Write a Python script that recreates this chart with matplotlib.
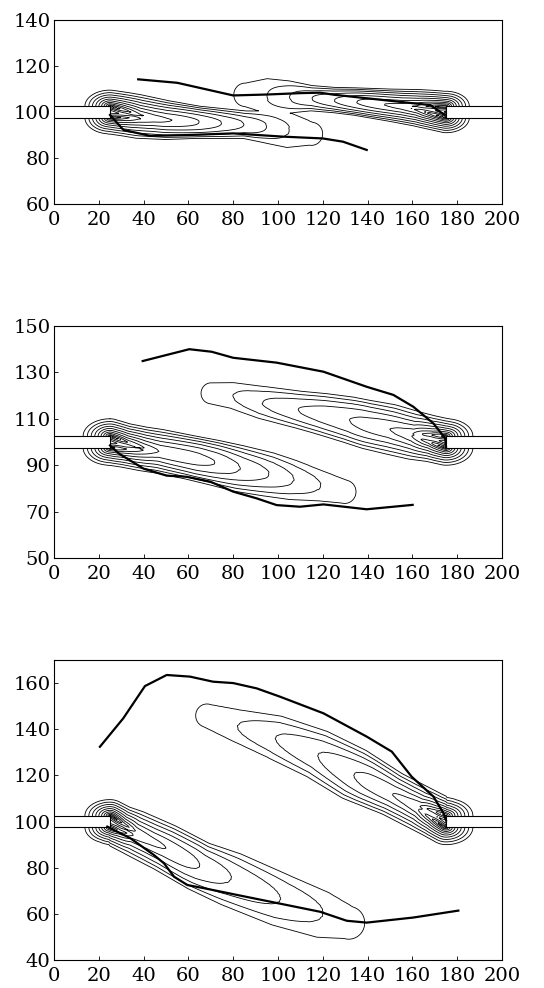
import numpy as np
import matplotlib.pyplot as plt
from matplotlib.patches import Rectangle

plt.rcParams['font.family'] = 'DejaVu Serif'
plt.rcParams['font.size'] = 14

# contour levels shared by every panel
levels = [0.05, 0.067, 0.089, 0.119, 0.159, 0.212, 0.283, 0.378, 0.505, 0.674, 0.9]

# jet axes: points along the axis, level on the axis (a) and outer half-width (h)
# ---- panel 1 (head-on jets) ----
p1_left_x = [25, 32, 38, 50, 65, 75, 85, 95, 105, 115]
p1_left_y = [100, 99, 98, 96.5, 95.5, 95, 94.5, 93.5, 92, 90.5]
p1_left_a = [1.0, 0.6, 0.4, 0.3, 0.212, 0.159, 0.119, 0.089, 0.067, 0.058]
p1_left_h = [9.5, 9.5, 9.5, 8.5, 7, 6.5, 6, 7, 7.5, 5]
p1_right_x = [175, 168, 162, 150, 135, 125, 115, 105, 95, 85]
p1_right_y = [100, 101, 101.8, 103, 104.5, 105.2, 106, 106.5, 107, 107.5]
p1_right_a = [1.0, 0.6, 0.4, 0.3, 0.212, 0.159, 0.119, 0.089, 0.067, 0.058]
p1_right_h = [9, 8.5, 8, 7, 6, 5.5, 5.5, 7, 7.5, 5]
p1_upper_x = [37.6, 55, 80, 95, 110, 118.8, 125, 147, 168, 174.5]
p1_upper_y = [114.2, 112.7, 107.2, 107.6, 108.2, 108.4, 107.5, 105.2, 103, 98.7]
p1_lower_x = [25, 31, 43, 60, 80, 102, 120, 129, 139.6]
p1_lower_y = [98.7, 92.2, 89.6, 90, 90.7, 89.3, 88.5, 87.1, 83.5]

# ---- panel 2 ----
p2_left_x = [25, 32, 40, 47, 60, 72, 83, 96, 107, 119, 130]
p2_left_y = [100, 98.5, 97, 96, 93.5, 91, 88.5, 86, 83.5, 81, 78.5]
p2_left_a = [1.0, 0.55, 0.38, 0.283, 0.25, 0.212, 0.159, 0.119, 0.089, 0.067, 0.058]
p2_left_h = [10, 9.5, 9.5, 9.5, 9.5, 9.8, 10, 9.5, 8.5, 6.5, 5]
p2_right_x = [175, 168, 160, 150, 140, 132, 120, 109, 93, 80, 70]
p2_right_y = [100, 101.5, 103, 105.5, 107.5, 109.5, 112, 114, 117, 120, 121]
p2_right_a = [1.0, 0.5, 0.283, 0.212, 0.18, 0.159, 0.14, 0.119, 0.089, 0.067, 0.058]
p2_right_h = [10, 10, 10.5, 10.8, 10.5, 10, 9, 8, 7, 5.6, 4.5]
p2_upper_x = [39.6, 60.4, 70.4, 80, 99.4, 120.3, 139.6, 151.5, 160.4, 169.4, 174.6, 175]
p2_upper_y = [134.9, 140, 138.9, 136.3, 134.2, 130.3, 123.8, 120.3, 115.2, 108, 101.6, 98]
p2_lower_x = [25, 29, 40, 50.3, 59.3, 69.8, 80, 90.5, 99.4, 109.8, 120.3, 139.6, 160.1]
p2_lower_y = [98.5, 95, 88.5, 85.5, 85, 82.9, 78.6, 75.7, 72.8, 72.1, 73.1, 71, 72.9]

# ---- panel 3 ----
p3_left_x = [25, 30, 36, 50, 65, 79, 101, 120, 132]
p3_left_y = [100, 97.5, 95, 88.5, 80.5, 75, 66, 59.5, 56]
p3_left_a = [1.0, 0.5, 0.283, 0.212, 0.159, 0.119, 0.089, 0.067, 0.058]
p3_left_h = [9.5, 9.5, 10, 10.5, 10.9, 11.8, 11.4, 10, 7]
p3_right_x = [175, 169, 163, 151, 134, 118, 99, 82, 68]
p3_right_y = [100, 103, 106, 112, 120.5, 129, 136.5, 141.5, 146]
p3_right_a = [1.0, 0.5, 0.283, 0.212, 0.159, 0.119, 0.089, 0.067, 0.058]
p3_right_h = [10, 9.8, 9.8, 9.8, 11.6, 10.8, 9.5, 7, 5]
p3_upper_x = [20.5, 30.9, 40.6, 50.3, 60.7, 71, 80, 90.5, 100.9, 120.3, 139.6, 150.8, 159.7, 169.4, 173.9, 175]
p3_upper_y = [132.4, 144.7, 158.7, 163.5, 162.8, 160.6, 160, 157.7, 154.1, 146.9, 136.8, 130.3, 119.4, 110.8, 103.6, 100.5]
p3_lower_x = [23.8, 34.2, 44.6, 49.1, 53.6, 59.5, 67, 89.3, 100, 118.8, 130.7, 139.6, 160.4, 180.5]
p3_lower_y = [97.8, 92.7, 85.5, 81.9, 76.1, 72.5, 71.1, 66.7, 64.6, 60.9, 57, 56.2, 58.4, 61.4]

LIP = 2.5  # nozzle half-height


def plume(X, Y, px, py, pa, ph):
    # cross-section profile around the two shear layers leaving the nozzle lips;
    # sharp peak at the exit, Gaussian further down
    px, py, pa, ph = map(np.asarray, (px, py, pa, ph))
    s = np.concatenate([[0], np.cumsum(np.hypot(np.diff(px), np.diff(py)))])
    ss = np.arange(0, s[-1] + 0.01, 0.5)
    cx = np.interp(ss, s, px)
    cy = np.interp(ss, s, py)
    best = np.full(X.shape, np.inf)
    idx = np.zeros(X.shape, dtype=int)
    for k in range(len(ss)):
        d2 = (X - cx[k]) ** 2 + (Y - cy[k]) ** 2
        m = d2 < best
        best[m] = d2[m]
        idx[m] = k
    r = np.sqrt(best)
    lip = LIP * np.clip(1 - ss / 20.0, 0, None)
    p = 0.6 + 1.4 * np.clip(ss / 40.0, 0, 1)
    a = np.interp(ss, s, pa)
    w = (np.interp(ss, s, ph) - lip) / np.log(a / levels[0]) ** (1 / p)
    A, W, P, L = a[idx], w[idx], p[idx], lip[idx]
    d = np.abs(r - L)
    # behind the nozzle the field creeps back along the nozzle wall
    along = (X - px[0]) * np.sign(px[1] - px[0])
    behind = along < 0
    d[behind] = np.hypot(along[behind] / 1.6,
                         np.clip(np.abs(Y - py[0]) - LIP, 0, None)[behind])
    return A * np.exp(-(d / W) ** P)


fig = plt.figure(figsize=(5.44, 9.88), dpi=100)
panels = [
    ([54/544, 1-204/988, 448/544, 184/988], (60, 140), range(60, 141, 20),
     (p1_left_x, p1_left_y, p1_left_a, p1_left_h),
     (p1_right_x, p1_right_y, p1_right_a, p1_right_h),
     (p1_upper_x, p1_upper_y), (p1_lower_x, p1_lower_y)),
    ([54/544, 1-558/988, 448/544, 232/988], (50, 150), range(50, 151, 20),
     (p2_left_x, p2_left_y, p2_left_a, p2_left_h),
     (p2_right_x, p2_right_y, p2_right_a, p2_right_h),
     (p2_upper_x, p2_upper_y), (p2_lower_x, p2_lower_y)),
    ([54/544, 1-960/988, 448/544, 300/988], (40, 170), range(40, 161, 20),
     (p3_left_x, p3_left_y, p3_left_a, p3_left_h),
     (p3_right_x, p3_right_y, p3_right_a, p3_right_h),
     (p3_upper_x, p3_upper_y), (p3_lower_x, p3_lower_y)),
]

for rect, ylim, yticks, jl, jr, up, lo in panels:
    ax = fig.add_axes(rect)
    xs = np.arange(0, 200.01, 0.5)
    ys = np.arange(ylim[0], ylim[1] + 0.01, 0.5)
    X, Y = np.meshgrid(xs, ys)
    F = np.maximum(plume(X, Y, *jl), plume(X, Y, *jr))
    ax.contour(X, Y, F, levels=levels, colors='black', linewidths=0.6)
    for x0 in (0, 175):
        ax.add_patch(Rectangle((x0, 100 - LIP), 25, 2 * LIP, facecolor='white',
                               edgecolor='black', lw=0.8, zorder=3))
    ax.plot(*up, color='black', lw=1.6, zorder=4)
    ax.plot(*lo, color='black', lw=1.6, zorder=4)
    ax.set_xlim(0, 200)
    ax.set_ylim(*ylim)
    ax.set_xticks(range(0, 201, 20))
    ax.set_yticks(list(yticks))
    ax.tick_params(direction='in', length=3, width=0.6)
    ax.tick_params(axis='x', pad=5)
    ax.tick_params(axis='y', pad=2.5)
    for sp in ax.spines.values():
        sp.set_linewidth(0.8)

fig.savefig('out.png', dpi=100)
